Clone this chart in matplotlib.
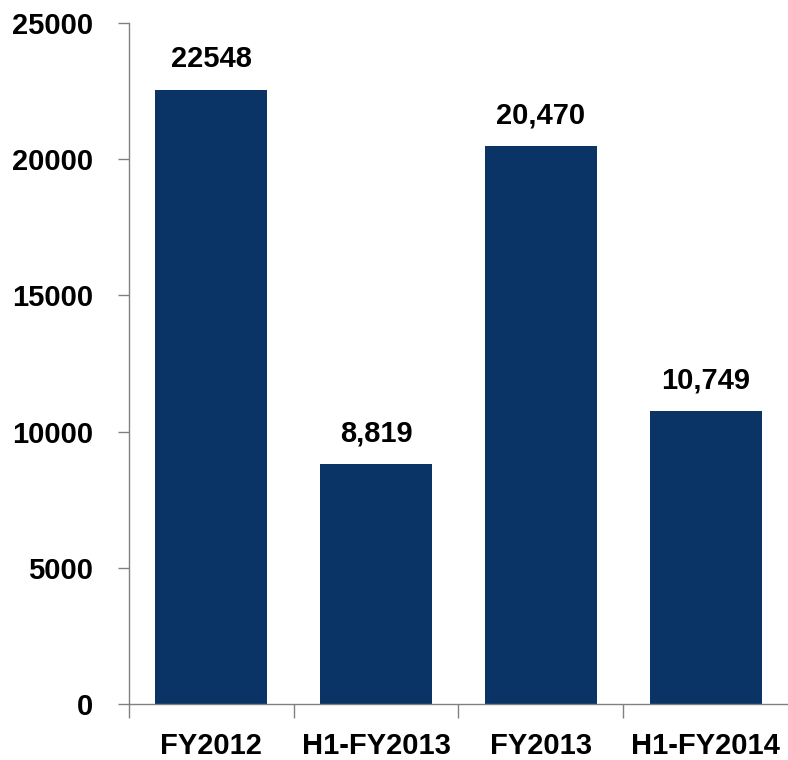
import matplotlib.pyplot as plt
import numpy as np

categories = ['FY2012', 'H1-FY2013', 'FY2013', 'H1-FY2014']
values = [22548, 8819, 20470, 10749]
value_labels = ['22548', '8,819', '20,470', '10,749']
yticks = [0, 5000, 10000, 15000, 20000, 25000]

plt.rcParams['font.family'] = ['Liberation Sans', 'DejaVu Sans']

fig = plt.figure(figsize=(7.88, 7.6), dpi=100)
ax = fig.add_axes([0.1637, 0.0737, 0.8363, 0.896])

x = np.arange(len(categories))
bars = ax.bar(x, values, width=0.68, color='#0a3366')

# 数值标签
for b, lab in zip(bars, value_labels):
    ax.annotate(lab, (b.get_x() + b.get_width() / 2, b.get_height()),
                xytext=(0, 12), textcoords='offset points',
                ha='center', va='bottom', fontsize=21, fontweight='bold')

ax.set_xlim(-0.5, 3.5)
ax.set_ylim(0, 25000)
ax.set_yticks(yticks)
ax.set_yticklabels([str(t) for t in yticks], fontsize=21, fontweight='bold')
ax.set_xticks(x)
ax.set_xticklabels(categories, fontsize=21, fontweight='bold')
ax.set_xticks([-0.5, 0.5, 1.5, 2.5], minor=True)

ax.tick_params(axis='x', which='major', length=0, pad=20)
ax.tick_params(axis='x', which='minor', length=10, color='#808080', width=1)
ax.tick_params(axis='y', length=8, color='#808080', width=1, pad=18)

for s in ['top', 'right']:
    ax.spines[s].set_visible(False)
for s in ['left', 'bottom']:
    ax.spines[s].set_color('#808080')
    ax.spines[s].set_linewidth(1)

fig.savefig('out.png', dpi=100)
